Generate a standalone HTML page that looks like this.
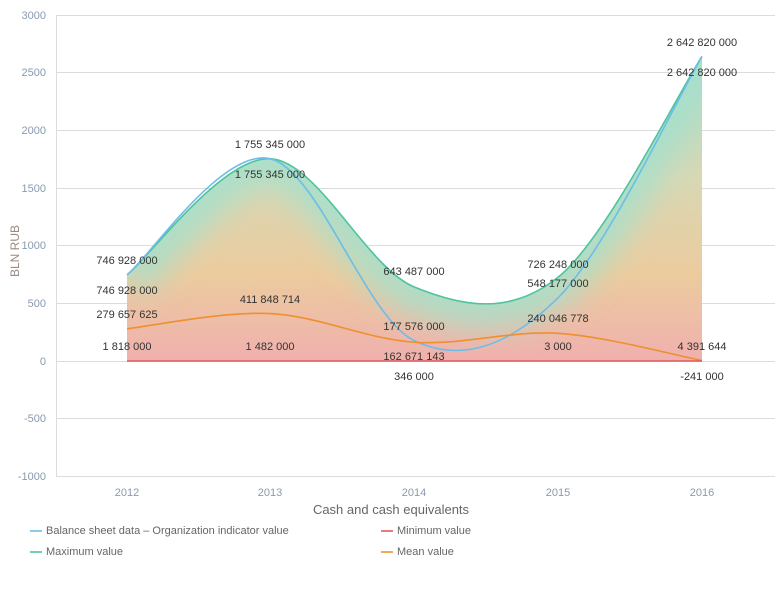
<!DOCTYPE html><html><head><meta charset="utf-8"><style>
body{margin:0;background:#fff;width:783px;height:591px;overflow:hidden;font-family:"Liberation Sans",sans-serif}
</style></head><body>
<svg width="783" height="591" xmlns="http://www.w3.org/2000/svg" font-family="Liberation Sans, sans-serif">
<defs><linearGradient id="g" x1="0" y1="56" x2="0" y2="361" gradientUnits="userSpaceOnUse">
<stop offset="0" stop-color="#a8dcc8"/><stop offset="0.4" stop-color="#d8d8b4"/><stop offset="0.72" stop-color="#eccb9e"/><stop offset="1" stop-color="#f0b0ae"/></linearGradient>
<clipPath id="cl"><path id="clp"/></clipPath>
<filter id="bl" x="-20%" y="-50%" width="140%" height="200%"><feGaussianBlur stdDeviation="14"/></filter></defs>
<g stroke="#dcdcdc" stroke-width="1">
<line x1="56" y1="15.5" x2="775" y2="15.5"/><line x1="56" y1="72.5" x2="775" y2="72.5"/><line x1="56" y1="130.5" x2="775" y2="130.5"/><line x1="56" y1="188.5" x2="775" y2="188.5"/><line x1="56" y1="245.5" x2="775" y2="245.5"/><line x1="56" y1="303.5" x2="775" y2="303.5"/><line x1="56" y1="361.5" x2="775" y2="361.5"/><line x1="56" y1="418.5" x2="775" y2="418.5"/><line x1="56" y1="476.5" x2="775" y2="476.5"/>
<line x1="56.5" y1="15" x2="56.5" y2="476"/>
</g>
<path id="area" fill="url(#g)"/>
<g clip-path="url(#cl)"><path id="glow" fill="none" stroke="#a6e0cc" stroke-width="50" stroke-opacity="0.85" filter="url(#bl)"/></g>
<path id="pmax" fill="none" stroke="#4fc49e" stroke-width="1.6"/>
<path id="pbal" fill="none" stroke="#6cbde8" stroke-width="1.6"/>
<path id="pmean" fill="none" stroke="#ee9030" stroke-width="1.6"/>
<line x1="127" y1="361" x2="702" y2="361" stroke="#e05a5a" stroke-width="1.6"/>
<g fill="#8a9ab0" font-size="11" text-anchor="end">
<text x="46" y="19">3000</text><text x="46" y="76">2500</text><text x="46" y="134">2000</text><text x="46" y="192">1500</text><text x="46" y="249">1000</text><text x="46" y="307">500</text><text x="46" y="365">0</text><text x="46" y="422">-500</text><text x="46" y="480">-1000</text>
</g>
<g fill="#8a9ab0" font-size="11" text-anchor="middle">
<text x="127" y="496">2012</text><text x="270" y="496">2013</text><text x="414" y="496">2014</text><text x="558" y="496">2015</text><text x="702" y="496">2016</text>
</g>
<text transform="translate(19,251) rotate(-90)" fill="#9a8a80" font-size="12" text-anchor="middle">BLN RUB</text>
<text x="391" y="514" fill="#666" font-size="13" text-anchor="middle">Cash and cash equivalents</text>
<g fill="#333" font-size="11" text-anchor="middle">
<text x="127" y="264">746 928 000</text><text x="127" y="294">746 928 000</text><text x="127" y="318">279 657 625</text><text x="127" y="350">1 818 000</text>
<text x="270" y="148">1 755 345 000</text><text x="270" y="178">1 755 345 000</text><text x="270" y="303">411 848 714</text><text x="270" y="350">1 482 000</text>
<text x="414" y="275">643 487 000</text><text x="414" y="330">177 576 000</text><text x="414" y="360">162 671 143</text><text x="414" y="380">346 000</text>
<text x="558" y="268">726 248 000</text><text x="558" y="287">548 177 000</text><text x="558" y="322">240 046 778</text><text x="558" y="350">3 000</text>
<text x="702" y="46">2 642 820 000</text><text x="702" y="76">2 642 820 000</text><text x="702" y="350">4 391 644</text><text x="702" y="380">-241 000</text>
</g>
<g font-size="11" fill="#666">
<line x1="30" y1="531" x2="42" y2="531" stroke="#6cbde8" stroke-width="1.6"/><text x="46" y="534">Balance sheet data – Organization indicator value</text>
<line x1="381" y1="531" x2="393" y2="531" stroke="#e05a5a" stroke-width="1.6"/><text x="397" y="534">Minimum value</text>
<line x1="30" y1="552" x2="42" y2="552" stroke="#4fc49e" stroke-width="1.6"/><text x="46" y="555">Maximum value</text>
<line x1="381" y1="552" x2="393" y2="552" stroke="#ee9030" stroke-width="1.6"/><text x="397" y="555">Mean value</text>
</g>
</svg>
<script>
var X=[127,270,414,558,702];
function y(v){return 361-v*0.11525;}
function path(vals){var p=X.map(function(x,i){return[x,y(vals[i])]});var d="M"+p[0][0]+","+p[0][1];
for(var i=0;i<p.length-1;i++){var p0=p[i-1]||p[i],p1=p[i],p2=p[i+1],p3=p[i+2]||p2;
d+=" C"+(p1[0]+(p2[0]-p0[0])/6)+","+(p1[1]+(p2[1]-p0[1])/6)+" "+(p2[0]-(p3[0]-p1[0])/6)+","+(p2[1]-(p3[1]-p1[1])/6)+" "+p2[0]+","+p2[1];}return d;}
var mx=path([746.9,1755.3,643.5,726.2,2642.8]);
document.getElementById("pmax").setAttribute("d",mx);
document.getElementById("glow").setAttribute("d",mx);
document.getElementById("area").setAttribute("d",mx+" L702,361 L127,361 Z");
document.getElementById("clp").setAttribute("d",mx+" L702,361 L127,361 Z");
document.getElementById("pbal").setAttribute("d",path([746.9,1755.3,177.6,548.2,2642.8]));
document.getElementById("pmean").setAttribute("d",path([279.7,411.8,162.7,240,4.4]));
</script>
</body></html>
